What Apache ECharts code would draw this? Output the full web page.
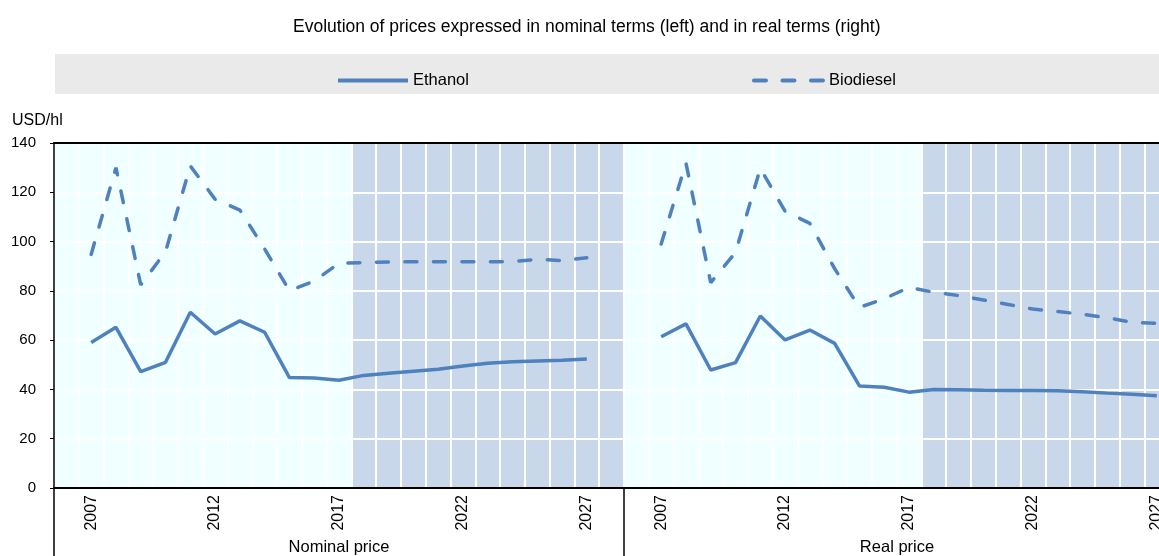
<!DOCTYPE html>
<html>
<head>
<meta charset="utf-8">
<script src="https://cdn.jsdelivr.net/npm/echarts@6/dist/echarts.min.js"></script>
<style>
html,body{margin:0;padding:0;background:#fff;}
#chart{width:1159px;height:556px;}
</style>
</head>
<body>
<div id="chart"></div>
<script>
// ---- data ----
const years = ['2007','2008','2009','2010','2011','2012','2013','2014','2015','2016','2017',
               '2018','2019','2020','2021','2022','2023','2024','2025','2026','2027'];
const labelYears = ['2007','2012','2017','2022','2027'];
const projectionYears = ['2018','2019','2020','2021','2022','2023','2024','2025','2026','2027'];
const ethanolNominal   = [59.0,65.2,47.2,51.0,71.3,62.5,67.8,63.2,44.8,44.6,43.7,45.7,46.6,47.4,48.2,49.5,50.6,51.2,51.5,51.8,52.3];
const biodieselNominal = [94.8,130.0,82.4,95.9,130.7,117.2,112.8,97.0,80.1,84.0,91.2,91.5,91.7,91.8,91.8,91.8,91.8,91.9,92.8,92.3,93.4];
const ethanolReal      = [61.4,66.6,47.9,50.9,69.8,60.1,64.1,58.7,41.4,40.9,38.9,40.0,39.9,39.7,39.6,39.6,39.5,39.1,38.5,38.0,37.4];
const biodieselReal    = [99.0,131.8,83.3,95.6,129.7,112.3,107.4,89.0,73.3,76.8,81.4,79.4,78.1,76.3,74.5,72.6,71.6,70.5,69.1,67.2,66.8];
const panelNames = ['Nominal price','Real price'];
const seriesNames = ['Ethanol','Biodiesel'];
const yMin = 0, yMax = 140, yStep = 20;
const titleText = 'Evolution of prices expressed in nominal terms (left) and in real terms (right)';
const unitText = 'USD/hl';

// ---- build ----
const PRE = 'pre', POST = 'post';
const cats = [PRE, ...years, POST];
const pad = arr => ['-', ...arr, '-'];
const shade = cats.map(c => (projectionYears.includes(c) || c === POST) ? yMax : '-');

const FONT = "'Liberation Sans', Arial, sans-serif";
const BLUE = '#4F81BD';
const gridLeft = [54, 624];
const gridW = 570;
const namePad = [[0,0,0,0],[0,24,0,0]];

const grids = [], xAxes = [], yAxes = [], series = [];
[0,1].forEach(g => {
  grids.push({left: gridLeft[g], top: 143, width: gridW, bottom: 68, show: true,
              containLabel: false, outerBoundsMode: 'none',
              backgroundColor: '#F0FFFF', borderWidth: 0});
  xAxes.push({
    gridIndex: g, type: 'category', data: cats, boundaryGap: true, position: 'bottom', z: 1.5,
    axisLine: {show: true, lineStyle: {color: '#000', width: 2}},
    axisTick: {show: false},
    axisLabel: {interval: 0, rotate: 90, margin: 7, color: '#000', fontSize: 16, fontFamily: FONT,
                formatter: v => labelYears.includes(v) ? v : ''},
    splitLine: {show: true, interval: 0, lineStyle: {color: '#FFFFFF', width: 2}},
    name: panelNames[g], nameLocation: 'middle', nameGap: 51,
    nameTextStyle: {color: '#000', fontSize: 16.5, fontFamily: FONT, padding: namePad[g]}
  });
  xAxes.push({
    gridIndex: g, type: 'category', data: ['sep'], position: 'bottom', boundaryGap: true, z: 1.6,
    axisLine: {show: false},
    axisTick: {show: true, length: 70, lineStyle: {color: '#000', width: 1.5}},
    axisLabel: {show: false}, splitLine: {show: false}
  });
  xAxes.push({
    gridIndex: g, type: 'category', data: ['top'], position: 'top', z: 1.6,
    axisLine: {show: true, lineStyle: {color: '#000', width: 2}},
    axisTick: {show: false}, axisLabel: {show: false}, splitLine: {show: false}
  });
  yAxes.push({
    gridIndex: g, type: 'value', min: yMin, max: yMax, interval: yStep, z: 1.5,
    axisLine: {show: g === 0, lineStyle: {color: '#000', width: 1.5}},
    axisTick: {show: g === 0, length: 4, lineStyle: {color: '#000'}},
    axisLabel: {show: g === 0, color: '#000', fontSize: 15, fontFamily: FONT, margin: 18},
    splitLine: {show: true, lineStyle: {color: '#FFFFFF', width: 2}}
  });
  const xi = g * 3;
  series.push({
    name: 'projection', type: 'bar', xAxisIndex: xi, yAxisIndex: g, data: shade,
    barWidth: '100%', itemStyle: {color: '#C9D7EA'}, z: 1, silent: true, animation: false
  });
  const eth = g === 0 ? ethanolNominal : ethanolReal;
  const bio = g === 0 ? biodieselNominal : biodieselReal;
  series.push({
    name: seriesNames[0], type: 'line', xAxisIndex: xi, yAxisIndex: g, data: pad(eth),
    showSymbol: false, symbol: 'none', z: 3, animation: false,
    lineStyle: {color: BLUE, width: 3.5}, itemStyle: {color: BLUE}
  });
  series.push({
    name: seriesNames[1], type: 'line', xAxisIndex: xi, yAxisIndex: g, data: pad(bio),
    showSymbol: false, symbol: 'none', z: 3, animation: false,
    lineStyle: {color: BLUE, width: 3.5, type: [12, 16.5], cap: 'round'}, itemStyle: {color: BLUE}
  });
});

const option = {
  animation: false,
  textStyle: {fontFamily: FONT},
  title: [
    {text: titleText, left: 288, top: 13,
     textStyle: {fontSize: 17.5, fontWeight: 'normal', color: '#000', fontFamily: FONT}},
    {text: unitText, left: 7, top: 108,
     textStyle: {fontSize: 16, fontWeight: 'normal', color: '#000', fontFamily: FONT}}
  ],
  graphic: [{type: 'rect', left: 55, top: 54, shape: {width: 1120, height: 40},
             style: {fill: '#EAEAEA'}, z: 0, silent: true}],
  legend: {
    data: seriesNames, left: 331, top: 67, itemWidth: 70, itemHeight: 14, itemGap: 283,
    itemStyle: {opacity: 0}, lineStyle: {width: 4},
    textStyle: {fontSize: 16.5, color: '#000', fontFamily: FONT}, selectedMode: false, z: 5
  },
  grid: grids, xAxis: xAxes, yAxis: yAxes, series: series
};
const chart = echarts.init(document.getElementById('chart'), null, {renderer: 'canvas'});
chart.setOption(option);
</script>
</body>
</html>
